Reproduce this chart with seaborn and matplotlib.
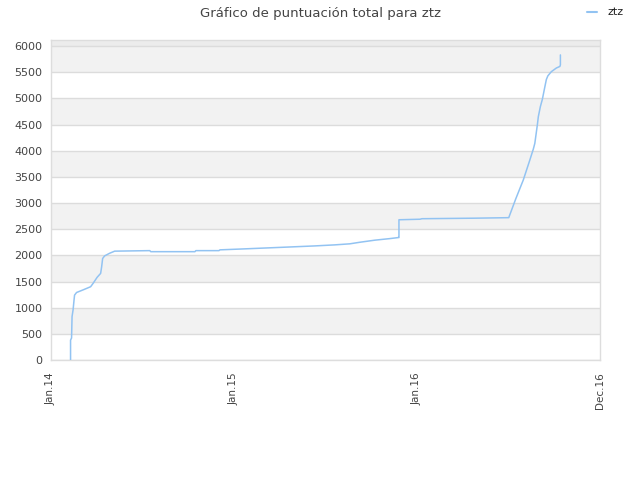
import matplotlib
matplotlib.use("Agg")
import matplotlib.pyplot as plt
import seaborn as sns
import pandas as pd

dates = [
    "2014-02-09", "2014-02-09", "2014-02-11", "2014-02-12", "2014-02-14", "2014-02-16",
    "2014-02-17", "2014-02-21", "2014-03-06", "2014-03-21", "2014-03-26", "2014-04-03",
    "2014-04-10", "2014-04-12", "2014-04-14", "2014-04-18", "2014-04-28", "2014-05-08",
    "2014-07-17", "2014-07-19", "2014-10-15", "2014-10-17", "2014-12-02", "2014-12-04",
    "2015-01-13", "2015-03-04", "2015-04-23", "2015-06-11", "2015-07-21", "2015-08-20",
    "2015-09-09", "2015-10-09", "2015-11-08", "2015-11-25", "2015-11-26", "2015-11-26",
    "2016-01-07", "2016-01-11", "2016-04-25", "2016-07-02", "2016-07-16", "2016-07-31",
    "2016-08-13", "2016-08-20", "2016-08-23", "2016-08-28", "2016-08-30", "2016-09-03",
    "2016-09-07", "2016-09-12", "2016-09-15", "2016-09-18", "2016-09-25", "2016-10-05",
    "2016-10-12", "2016-10-13", "2016-10-13",
]
scores = [
    0, 380, 420, 830, 955, 1150,
    1240, 1290, 1340, 1400, 1465, 1580,
    1655, 1780, 1940, 1990, 2040, 2080,
    2090, 2070, 2070, 2090, 2090, 2105,
    2120, 2140, 2160, 2180, 2200, 2220,
    2250, 2290, 2320, 2340, 2340, 2680,
    2690, 2700, 2710, 2720, 3080, 3440,
    3820, 4030, 4140, 4490, 4650, 4840,
    4980, 5220, 5360, 5430, 5510, 5580,
    5610, 5640, 5830,
]
series_name = "ztz"
title = "Gráfico de puntuación total para ztz"
tick_dates = ["2014-01-01", "2015-01-01", "2016-01-01", "2016-12-31"]
tick_labels = ["Jan.14", "Jan.15", "Jan.16", "Dec.16"]
y_ticks = list(range(0, 6001, 500))

df = pd.DataFrame({"fecha": pd.to_datetime(dates), "puntos": scores, "serie": series_name})

sns.set_theme(style="white")
plt.rcParams["font.family"] = ["DejaVu Sans"]

fig = plt.figure(figsize=(6.4, 4.8), dpi=100)
ax = fig.add_axes([51 / 640, 1 - 360 / 480, 549 / 640, 320 / 480])

ymax = 6115
for i, lo in enumerate(range(0, 6000, 500)):
    if i % 2 == 1:
        ax.axhspan(lo, lo + 500, color="#f2f2f2", zorder=0, lw=0)
ax.axhspan(6000, ymax, color="#ececec", zorder=0, lw=0)
for yt in y_ticks:
    ax.axhline(yt, color="#dcdcdc", lw=1, zorder=1)

sns.lineplot(data=df, x="fecha", y="puntos", hue="serie", palette=["#92c3f2"],
             sort=False, estimator=None, lw=1.1, ax=ax, legend=False, zorder=3)

ax.set_xlim(pd.Timestamp("2014-01-01"), pd.Timestamp("2016-12-31"))
ax.set_ylim(0, ymax)
ax.set_xticks(pd.to_datetime(tick_dates))
ax.set_xticklabels(tick_labels, rotation=90, fontsize=7.5, color="#444444")
ax.set_yticks(y_ticks)
ax.set_yticklabels([str(v) for v in y_ticks], fontsize=8, color="#444444")
ax.tick_params(axis="y", length=0, pad=6)
ax.tick_params(axis="x", length=0, pad=9)
ax.set_xlabel("")
ax.set_ylabel("")
for s in ["left", "bottom", "right", "top"]:
    ax.spines[s].set_color("#dddddd")
    ax.spines[s].set_linewidth(1)

fig.text(0.5, 1 - 13 / 480, title, ha="center", va="center", fontsize=9.5, color="#444444")
fig.lines.append(plt.Line2D([587 / 640, 597 / 640], [1 - 12 / 480, 1 - 12 / 480],
                            transform=fig.transFigure, color="#92c3f2", lw=1.5))
fig.text(607 / 640, 1 - 12 / 480, series_name, ha="left", va="center", fontsize=8, color="#222222")

fig.savefig("out.png", dpi=100)
